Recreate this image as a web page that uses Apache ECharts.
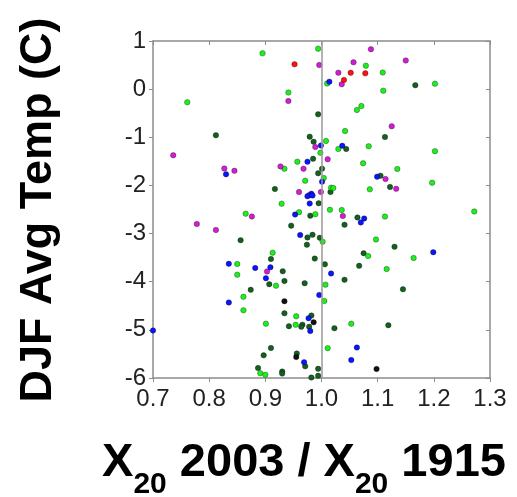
<!DOCTYPE html>
<html>
<head>
<meta charset="utf-8">
<script src="https://cdn.jsdelivr.net/npm/echarts@6/dist/echarts.min.js"></script>
<style>
  html, body { margin: 0; padding: 0; background: #fff; }
  #chart { width: 517px; height: 497px; }
</style>
</head>
<body>
<div id="chart"></div>
<script>
// Station points: [X20 2003 / X20 1915 ratio, DJF average temperature (C)]
const brightGreen = [
  [0.895, 0.744], [0.994, 0.84], [1.010, 0.117], [0.761, -0.271], [0.941, -0.070],
  [1.008, -1.077], [0.998, -1.322], [0.957, -1.507], [0.934, -1.653], [1.004, -1.846],
  [0.971, -1.902], [1.017, -2.047], [1.021, -2.054], [0.929, -2.380], [0.865, -2.587],
  [0.960, -2.556], [0.989, -2.598], [1.015, -2.506], [1.036, -2.511], [1.002, -3.169],
  [0.913, -3.398], [0.850, -3.632], [0.850, -3.855], [0.919, -4.083], [1.007, -4.062],
  [0.861, -4.314], [1.005, -4.401], [0.861, -4.594], [0.901, -4.872], [0.955, -4.719],
  [0.954, -4.895], [1.011, -5.381], [0.891, -5.901], [0.900, -5.934],
  [1.079, 0.487], [1.109, 0.346], [1.202, 0.113], [1.110, -0.032], [1.071, -0.350],
  [1.063, -0.433], [1.042, -0.870], [1.030, -1.243], [1.084, -1.187], [1.202, -1.289],
  [1.074, -1.540], [1.135, -1.659], [1.197, -1.944], [1.086, -2.081], [1.272, -2.542],
  [1.113, -2.646], [1.097, -3.123], [1.083, -3.466], [1.164, -3.508], [1.116, -3.736],
  [1.053, -4.872]
];
const darkGreen = [
  [0.994, -0.523], [0.812, -0.957], [0.979, -0.988], [0.986, -1.094], [0.985, -1.447],
  [1.001, -1.653], [0.994, -1.748], [0.917, -2.074], [1.016, -2.137], [0.995, -2.371],
  [0.980, -2.629], [0.946, -2.835], [0.975, -3.080], [0.984, -3.026], [0.974, -3.231],
  [0.997, -3.088], [0.856, -3.138], [0.910, -3.528], [0.988, -3.520], [1.006, -3.639],
  [0.931, -3.784], [0.934, -3.985], [0.907, -4.052], [0.970, -4.031], [0.874, -4.168],
  [0.934, -4.656], [0.942, -4.924], [0.966, -4.893], [0.964, -4.937], [0.982, -4.702],
  [0.978, -4.937], [0.910, -5.377], [0.897, -5.529], [0.956, -5.491], [0.971, -5.757],
  [0.887, -5.793], [0.930, -5.867], [0.930, -5.909], [0.994, -5.809], [0.994, -5.953],
  [0.982, -5.99],
  [1.167, 0.082], [1.113, -0.994], [1.044, -1.243], [1.105, -1.798], [1.122, -2.033],
  [1.064, -2.666], [1.041, -2.818], [1.130, -3.275], [1.075, -3.408], [1.067, -3.670],
  [1.041, -3.961], [1.145, -4.158], [1.023, -4.966], [1.119, -4.904]
];
const blue = [
  [1.014, 0.155], [0.999, -1.171], [0.975, -1.507], [1.001, -1.923], [0.982, -2.172],
  [0.978, -2.203], [0.975, -2.224], [0.984, -2.209], [0.979, -2.376], [0.830, -1.769],
  [0.953, -2.604], [0.962, -3.032], [0.835, -3.628], [0.882, -3.715], [0.909, -3.701],
  [0.901, -3.927], [1.017, -3.830], [0.996, -4.276], [0.835, -4.432], [0.977, -4.758],
  [0.980, -5.024], [0.700, -5.014], [0.969, -5.672], [1.076, -2.687], [1.070, -2.770],
  [1.037, -1.177], [1.099, -1.819], [1.199, -3.387], [1.063, -5.367], [1.053, -5.627]
];
const magenta = [
  [0.996, 0.501], [0.941, -0.246], [0.736, -1.374], [0.989, -1.202], [1.011, -1.455],
  [0.827, -1.649], [0.845, -1.696], [0.927, -1.607], [0.968, -1.653], [0.960, -2.137],
  [0.999, -2.137], [0.876, -2.646], [0.778, -2.801], [0.812, -2.926], [0.903, -3.788],
  [1.038, -2.635], [1.088, 0.828], [1.057, 0.558], [1.150, 0.595], [1.030, 0.342],
  [1.036, 0.101], [1.125, -0.772], [1.114, -1.867], [1.133, -2.070]
];
const red = [
  [0.952, 0.516], [1.052, 0.339], [1.078, 0.329], [1.040, 0.190]
];
const black = [
  [0.934, -4.405], [0.986, -4.843], [0.955, -5.564], [1.098, -5.813]
];

// Axis ranges and tick labels
const xTicks = ['0.7', '0.8', '0.9', '1.0', '1.1', '1.2', '1.3'];
const yTicks = ['-6', '-5', '-4', '-3', '-2', '-1', '0', '1'];

const frameColor = '#8c8c8c';
const tickFont = { fontFamily: '"Liberation Sans", Arial, sans-serif', fontSize: 24, color: '#222' };

function dotSeries(name, data, color) {
  return {
    name: name,
    type: 'scatter',
    data: data,
    symbol: 'circle',
    symbolSize: 5.5,
    itemStyle: { color: color, borderColor: 'rgba(0,0,0,0.3)', borderWidth: 1, opacity: 1 },
    emphasis: { disabled: true },
    silent: true,
    z: 3
  };
}

const chart = echarts.init(document.getElementById('chart'), null, { renderer: 'canvas' });
chart.setOption({
  animation: false,
  backgroundColor: '#fff',
  grid: { left: 153, top: 41, right: 27, bottom: 119, containLabel: false },
  xAxis: [
    {
      type: 'value', position: 'bottom',
      min: Number(xTicks[0]), max: Number(xTicks[xTicks.length - 1]), interval: 0.1,
      axisLine: { show: true, onZero: false, lineStyle: { color: frameColor, width: 1.5 } },
      axisTick: { show: true, inside: false, length: 4, lineStyle: { color: frameColor } },
      axisLabel: Object.assign({ margin: 9, formatter: v => v.toFixed(1) }, tickFont),
      splitLine: { show: false }
    },
    {
      type: 'value', position: 'top',
      min: Number(xTicks[0]), max: Number(xTicks[xTicks.length - 1]), interval: 0.1,
      axisLine: { show: true, onZero: false, lineStyle: { color: frameColor, width: 1.5 } },
      axisTick: { show: true, inside: true, length: 4, lineStyle: { color: frameColor } },
      axisLabel: { show: false },
      splitLine: { show: false }
    }
  ],
  yAxis: [
    {
      type: 'value', position: 'left',
      min: Number(yTicks[0]), max: Number(yTicks[yTicks.length - 1]), interval: 1,
      axisLine: { show: true, onZero: false, lineStyle: { color: frameColor, width: 1.5 } },
      axisTick: { show: true, inside: false, length: 4, lineStyle: { color: frameColor } },
      axisLabel: Object.assign({ margin: 7 }, tickFont),
      splitLine: { show: false }
    },
    {
      type: 'value', position: 'right',
      min: Number(yTicks[0]), max: Number(yTicks[yTicks.length - 1]), interval: 1,
      axisLine: { show: true, onZero: false, lineStyle: { color: frameColor, width: 1.5 } },
      axisTick: { show: true, inside: true, length: 4, lineStyle: { color: frameColor } },
      axisLabel: { show: false },
      splitLine: { show: false }
    }
  ],
  series: [
    {
      // reference line at a ratio of 1.0
      type: 'line', data: [], silent: true,
      markLine: {
        silent: true, symbol: 'none', label: { show: false },
        lineStyle: { color: '#999', width: 1.5, type: 'solid' },
        data: [{ xAxis: 1.0 }]
      }
    },
    dotSeries('darkGreen', darkGreen, '#14601e'),
    dotSeries('brightGreen', brightGreen, '#1cf01c'),
    dotSeries('magenta', magenta, '#d21ed2'),
    dotSeries('blue', blue, '#0a14ff'),
    dotSeries('red', red, '#ff1010'),
    dotSeries('black', black, '#111')
  ],
  graphic: [
    {
      type: 'text',
      x: 39, y: 210, rotation: Math.PI / 2,
      style: {
        text: 'DJF Avg Temp (C)',
        fontFamily: '"Liberation Sans", Arial, sans-serif',
        fontSize: 45, fontWeight: 'bold', fill: '#000',
        textAlign: 'center', textVerticalAlign: 'middle'
      }
    },
    {
      type: 'text',
      x: 304, y: 440,
      style: {
        text: '{b|X}{s|20}{b| 2003 / X}{s|20}{b| 1915}',
        textAlign: 'center', textVerticalAlign: 'top',
        rich: {
          b: { fontFamily: '"Liberation Sans", Arial, sans-serif', fontSize: 47, fontWeight: 'bold', fill: '#000', lineHeight: 46, padding: [0, 0, 30, 0], verticalAlign: 'top' },
          s: { fontFamily: '"Liberation Sans", Arial, sans-serif', fontSize: 30, fontWeight: 'bold', fill: '#000', lineHeight: 30, padding: [30, 0, 0, 0], verticalAlign: 'top' }
        }
      }
    }
  ]
});
</script>
</body>
</html>
